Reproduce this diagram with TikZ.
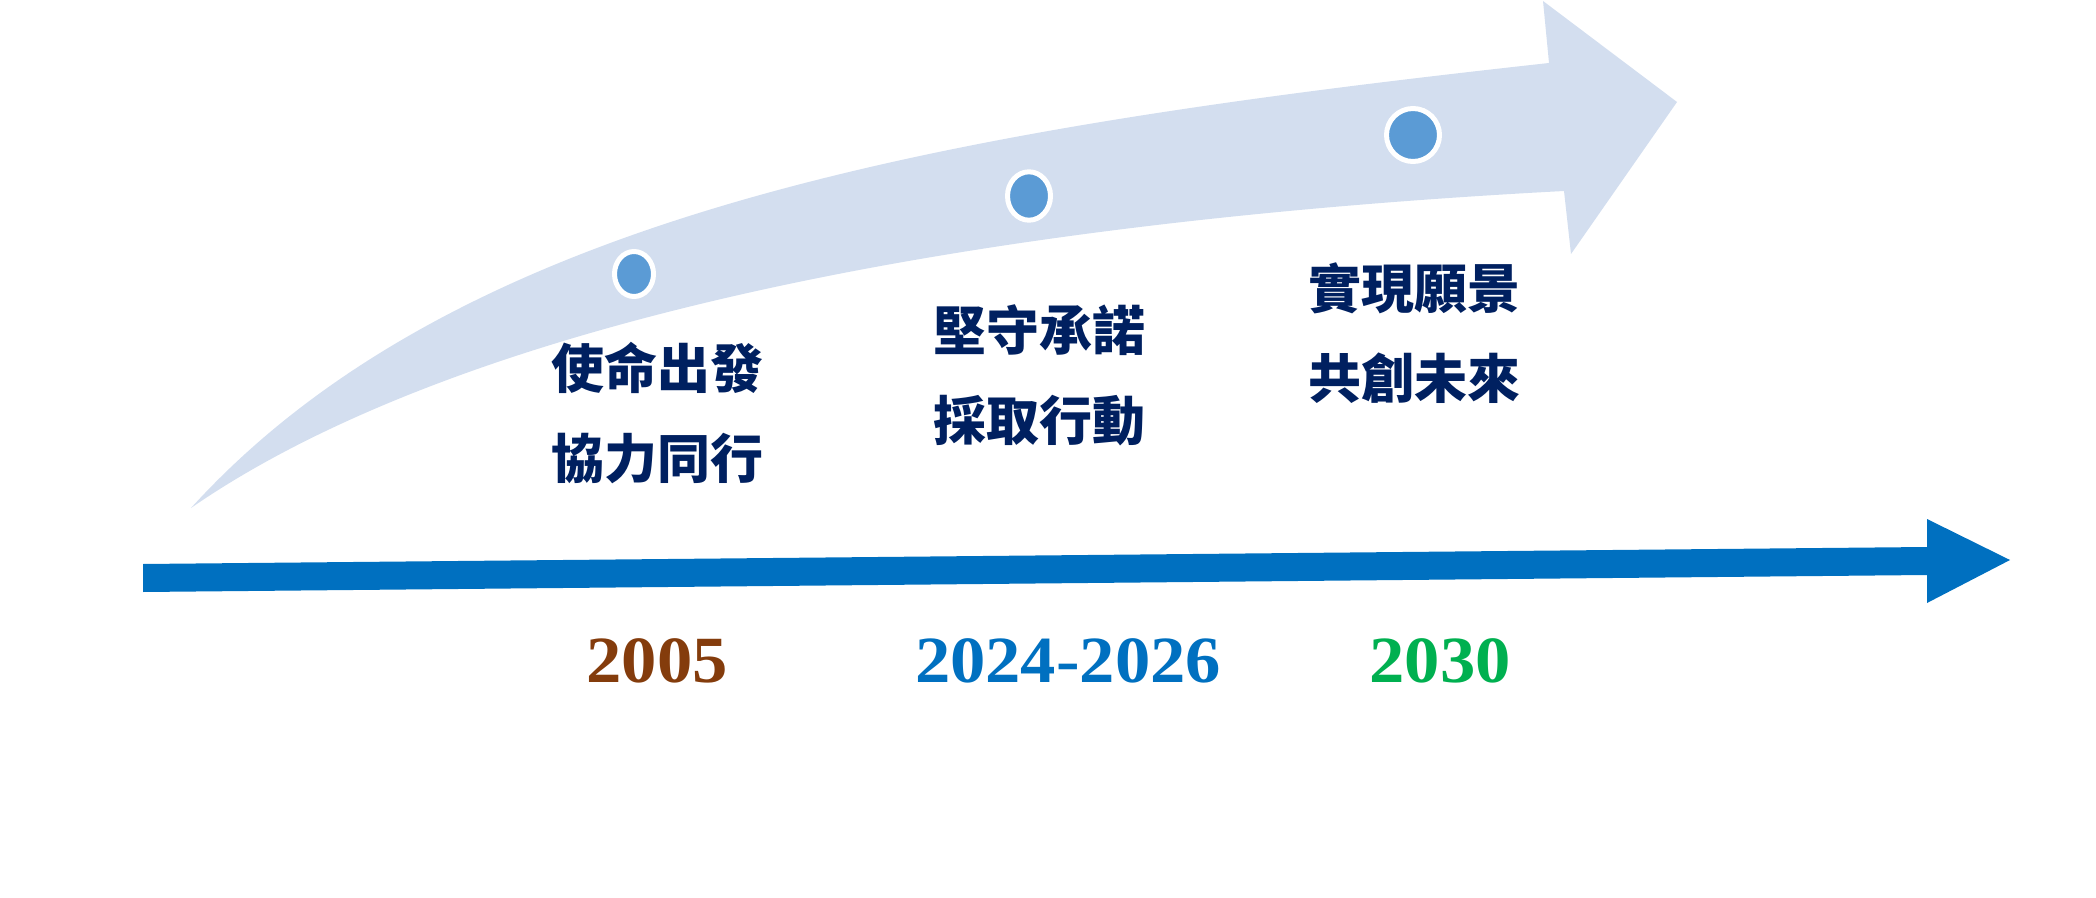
\documentclass[tikz,border=0pt]{standalone}
\usepackage{fontspec}
\setmainfont{Liberation Serif}
\newfontfamily\yearfont[FakeStretch=1.07]{Liberation Serif}
\newfontfamily\cjk{Noto Sans CJK TC}
\definecolor{bandc}{HTML}{D3DEEF}
\definecolor{dotc}{HTML}{5B9BD5}
\definecolor{axisc}{HTML}{0070C0}
\definecolor{navy}{HTML}{002060}
\definecolor{brownc}{HTML}{843C0C}
\definecolor{greenc}{HTML}{00B050}
\usetikzlibrary{shapes.geometric}
\begin{document}
\begin{tikzpicture}[x=0.5pt,y=-0.5pt,
  dot/.style={ellipse,fill=dotc,draw=white,line width=2.5pt,inner sep=0pt},
  phase/.style={text=navy,align=center,font=\cjk\bfseries\fontsize{26.5}{45}\selectfont},
  year/.style={font=\yearfont\bfseries\fontsize{33}{36}\selectfont}]
\useasboundingbox (0,0) rectangle (2096,898);
% big curved arrow
\fill[bandc] (191,508) .. controls (461,211) and (949,129) .. (1549,63)
  -- (1543,1) -- (1677,102) -- (1571,254) -- (1564,191)
  .. controls (864,228) and (421,349) .. (191,508) -- cycle;
% timeline axis arrow
\fill[axisc] (143,564) -- (1927,547) -- (1927,519) -- (2010,560) -- (1927,603) -- (1927,575) -- (143,592) -- cycle;
% dots
\node[dot,minimum width=19.5pt,minimum height=22.5pt] (d1) at (634,274) {};
\node[dot,minimum width=21.5pt,minimum height=24.2pt] (d2) at (1029,196) {};
\node[dot,minimum width=26.5pt,minimum height=26.5pt] (d3) at (1413,135) {};
% phase texts
\node[phase] (t1) at (657,413) {使命出發\\協力同行};
\node[phase] (t2) at (1039,375) {堅守承諾\\採取行動};
\node[phase] (t3) at (1414,333) {實現願景\\共創未來};
% years
\node[year,text=brownc] (y1) at (657,661) {2005};
\node[year,text=axisc] (y2) at (1068,661) {2024-2026};
\node[year,text=greenc] (y3) at (1440,661) {2030};
\end{tikzpicture}
\end{document}
